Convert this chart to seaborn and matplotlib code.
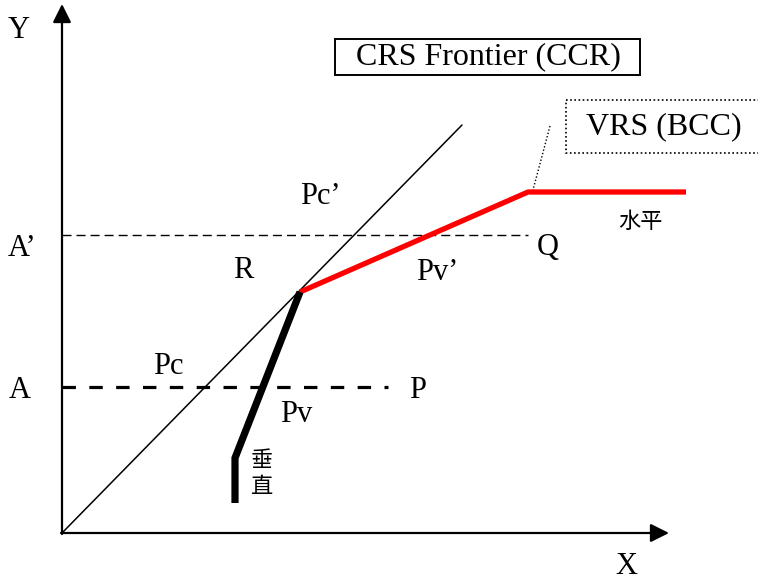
import numpy as np
import pandas as pd
import matplotlib
matplotlib.use("Agg")
import matplotlib.pyplot as plt
import seaborn as sns
from matplotlib.patches import Rectangle

# Diagram points (pixel space of the original figure, y grows downward)
crs_x = [62, 462]
crs_y = [533, 125]

vrs_red_x = [300, 528, 686]
vrs_red_y = [292, 192, 192]

vrs_black_x = [300, 235, 235]
vrs_black_y = [292, 458, 503]

a_prime_x = [62, 528]
a_prime_y = [235, 235]

a_x = [62, 388]
a_y = [387, 387]

labels = ["Y", "X", "A\u2019", "A", "R", "Pc\u2019", "Q", "Pv\u2019", "Pc", "P", "Pv"]
label_x = [19, 626, 22, 20, 243, 320, 548, 437, 168, 418, 296]
label_y = [31, 567, 248, 391, 270, 197, 248, 273, 366, 390, 415]

sns.set_theme(style="white")
serif = ["Liberation Serif", "DejaVu Serif"]
cjk = ["Noto Sans CJK TC", "DejaVu Sans"]

fig = plt.figure(figsize=(7.58, 5.83), dpi=100)
ax = fig.add_axes([0, 0, 1, 1])
ax.set_xlim(0, 758)
ax.set_ylim(583, 0)
ax.axis("off")

# axes with arrow heads
ax.annotate("", xy=(62, 4), xytext=(62, 534),
            arrowprops=dict(arrowstyle="-|>", color="black", lw=1.6,
                            mutation_scale=28, shrinkA=0, shrinkB=0))
ax.annotate("", xy=(669, 533), xytext=(61, 533),
            arrowprops=dict(arrowstyle="-|>", color="black", lw=1.6,
                            mutation_scale=28, shrinkA=0, shrinkB=0))


def seg(xs, ys, **kw):
    sns.lineplot(x=xs, y=ys, ax=ax, sort=False, estimator=None, **kw)
    return ax.lines[-1]


# CRS frontier
seg(crs_x, crs_y, color="black", lw=1.1)

# horizontal dashed guides
seg(a_prime_x, a_prime_y, color="black", lw=1.0).set_dashes((6.5, 3.6))
seg(a_x, a_y, color="black", lw=2.3).set_dashes((4.2, 4.2))

# VRS frontier
red = seg(vrs_red_x, vrs_red_y, color="#ff0000", lw=3.8)
red.set_solid_capstyle("butt")
blk = seg(vrs_black_x, vrs_black_y, color="black", lw=5.2)
blk.set_solid_capstyle("butt")
blk.set_solid_joinstyle("miter")

# leader line to VRS box
ax.plot([550, 533], [126, 190], color="black", lw=1.0, ls=(0, (1, 1.5)))

for t, x, y in zip(labels, label_x, label_y):
    ax.text(x, y, t, family=serif, fontsize=22, ha="center", va="center",
            color="black")

ax.text(640, 221, "水平", family=cjk, fontsize=16, ha="center", va="center",
        color="black")
ax.text(262, 460, "垂", family=cjk, fontsize=16, ha="center", va="center",
        color="black")
ax.text(262, 487, "直", family=cjk, fontsize=16, ha="center", va="center",
        color="black")

# legend-like boxes
ax.add_patch(Rectangle((335, 39), 305, 36, fill=True, fc="white",
                       ec="black", lw=1.4))
ax.text(488, 57, "CRS Frontier (CCR)", family=serif, fontsize=23,
        ha="center", va="center", color="black")
ax.add_patch(Rectangle((566, 100), 200, 53, fill=False, ec="black", lw=1.2,
                       ls=(0, (1, 1.5))))
ax.text(664, 127, "VRS (BCC)", family=serif, fontsize=23,
        ha="center", va="center", color="black")

fig.savefig("out.png", dpi=100, facecolor="white")
